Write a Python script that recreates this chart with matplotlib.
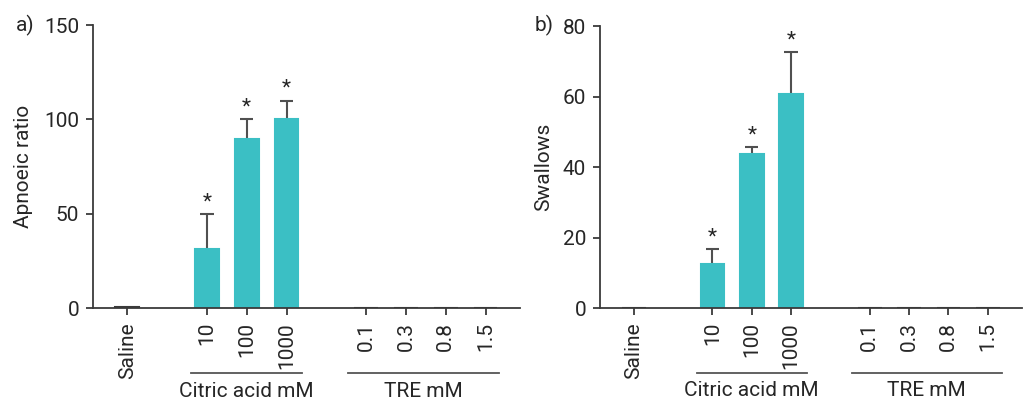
import numpy as np
import matplotlib
matplotlib.use('Agg')
import matplotlib.pyplot as plt
import matplotlib.transforms as mtransforms

plt.rcParams['font.family'] = ['Roboto', 'DejaVu Sans']

# categories and positions along the x axis
categories = ['Saline', '10', '100', '1000', '0.1', '0.3', '0.8', '1.5']
positions = [0, 2, 3, 4, 6, 7, 8, 9]

# panel a: apnoeic ratio
apnoea = [0.8, 31.3, 89.6, 100.0, 0, 0, 0, 0]
apnoea_err = [0, 18.5, 10.4, 10.0, 0, 0, 0, 0]
apnoea_sig = [False, True, True, True, False, False, False, False]

# panel b: swallows
swallows = [0, 12.5, 43.7, 60.6, 0, 0, 0, 0]
swallows_err = [0, 4.2, 2.0, 12.0, 0, 0, 0, 0]
swallows_sig = [False, True, True, True, False, False, False, False]

groups = ['Citric acid mM', 'TRE mM']
group_span = [(1.6, 4.4), (5.55, 9.35)]

teal = '#3bbfc4'
dark = '#3a3a3a'
txt = '#262626'
fs = 15

fig = plt.figure(figsize=(10.27, 4.04), dpi=100)
ax1 = fig.add_axes([0.0906, 0.2376, 0.4155, 0.7004])
ax2 = fig.add_axes([0.5842, 0.2376, 0.4105, 0.6980])


def draw_panel(ax, vals, errs, sig, ymax, yticks, ylabel, label_x, letter, letter_x, star_off):
    edge = [dark if v < 2 else teal for v in vals]
    ax.bar(positions, vals, width=0.6, color=teal, edgecolor=edge, linewidth=1.5,
           zorder=2)
    for x, v, e, s in zip(positions, vals, errs, sig):
        if e > 0:
            ax.vlines(x, v, v + e, color='#505050', lw=1.5, zorder=1)
            ax.hlines(v + e, x - 0.17, x + 0.17, color='#505050', lw=1.5)
        if s:
            ax.text(x, v + e + star_off, '*', ha='center', va='bottom',
                    fontsize=15, color=txt)
    ax.set_xlim(-0.86, 9.86)
    ax.set_ylim(0, ymax)
    ax.set_yticks(yticks)
    ax.set_xticks(positions)
    ax.set_xticklabels(categories, rotation=90)
    ax.spines['top'].set_visible(False)
    ax.spines['right'].set_visible(False)
    for sp in ['left', 'bottom']:
        ax.spines[sp].set_color(dark)
        ax.spines[sp].set_linewidth(1.3)
    ax.tick_params(axis='both', length=5, width=1.3, color=dark,
                   labelsize=fs, labelcolor=txt)
    ax.tick_params(axis='y', pad=5)
    ax.tick_params(axis='x', pad=5)
    ax.set_ylabel(ylabel, fontsize=fs, color=txt)
    ax.yaxis.set_label_coords(label_x, 0.5)
    fig.text(letter_x, 0.938, letter, fontsize=fs, color=txt,
             ha='left', va='center')
    trans = mtransforms.blended_transform_factory(ax.transData, ax.transAxes)
    for name, (x0, x1) in zip(groups, group_span):
        ax.plot([x0, x1], [-0.23, -0.23], color='#555555', lw=1.3,
                transform=trans, clip_on=False)
        ax.text((x0 + x1) / 2, -0.26, name, transform=trans, ha='center',
                va='top', fontsize=fs, color=txt)


draw_panel(ax1, apnoea, apnoea_err, apnoea_sig, 150, [0, 50, 100, 150],
           'Apnoeic ratio', -0.14, 'a)', 0.015, 1.5)
draw_panel(ax2, swallows, swallows_err, swallows_sig, 80, [0, 20, 40, 60, 80],
           'Swallows', -0.112, 'b)', 0.521, 0.8)

fig.savefig('out.png', dpi=100)
